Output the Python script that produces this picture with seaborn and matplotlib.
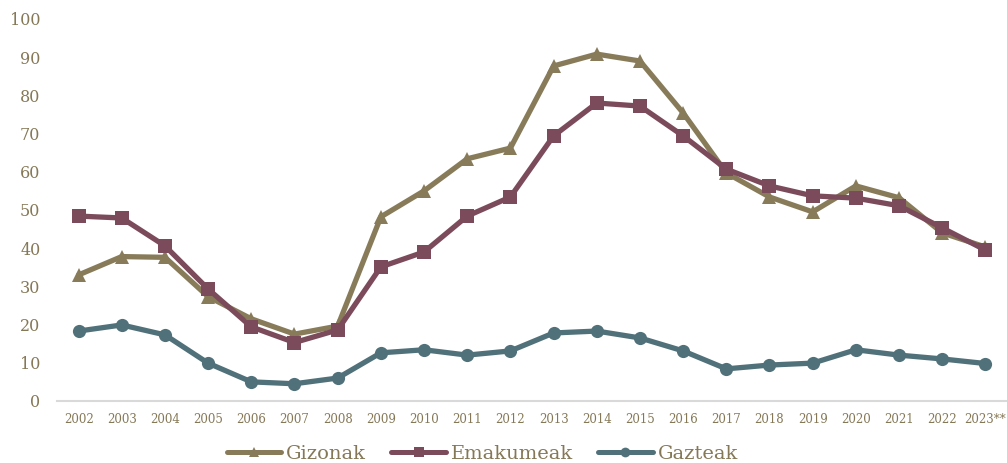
"""Gizonak / Emakumeak / Gazteak time series, 2002-2023."""

import matplotlib.pyplot as plt
import pandas as pd
import seaborn as sns

YEARS = [str(y) for y in range(2002, 2023)] + ["2023**"]
GIZONAK = [33.0, 37.8, 37.6, 27.3, 21.5, 17.5, 19.6, 48.2, 55.0, 63.4, 66.2, 87.7,
           90.8, 89.0, 75.4, 59.7, 53.4, 49.5, 56.3, 53.2, 44.0, 40.3]
EMAKUMEAK = [48.4, 47.9, 40.6, 29.3, 19.4, 15.3, 18.6, 35.1, 39.0, 48.4, 53.4, 69.4,
             78.0, 77.2, 69.4, 60.7, 56.3, 53.7, 53.1, 51.1, 45.3, 39.5]
GAZTEAK = [18.3, 19.9, 17.3, 9.9, 5.0, 4.5, 6.0, 12.6, 13.4, 12.0, 13.1, 17.8,
           18.3, 16.5, 13.1, 8.4, 9.4, 9.9, 13.4, 12.0, 11.0, 9.8]

SERIES = ["Gizonak", "Emakumeak", "Gazteak"]
COLORS = ["#887b59", "#7c4b5b", "#50707a"]
MARKERS = ["^", "s", "o"]
TEXT = "#857857"


def main() -> None:
    sns.set_theme(style="white")
    plt.rcParams["font.family"] = ["DejaVu Serif"]

    rows = []
    for name, vals in zip(SERIES, [GIZONAK, EMAKUMEAK, GAZTEAK]):
        for i, v in enumerate(vals):
            rows.append({"pos": i, "value": v, "serie": name})
    df = pd.DataFrame(rows)

    fig = plt.figure(figsize=(10.07, 4.63), dpi=100)
    ax = fig.add_axes([0.0566, 0.134, 0.9434, 0.825])
    sns.lineplot(data=df, x="pos", y="value", hue="serie", style="serie",
                 palette=COLORS, markers=MARKERS, dashes=False,
                 linewidth=3.8, markersize=9.5, markeredgewidth=0,
                 ax=ax, legend=False, zorder=3)

    ax.set_xlim(-0.5, len(YEARS) - 0.5)
    ax.set_ylim(0, 100)
    ax.set_xticks(range(len(YEARS)))
    ax.set_xticklabels(YEARS, fontsize=8.5, color=TEXT)
    ax.set_yticks(range(0, 101, 10))
    ax.set_yticklabels([str(v) for v in range(0, 101, 10)], fontsize=11.5, color=TEXT)
    ax.tick_params(axis="x", length=0, pad=9)
    ax.tick_params(axis="y", length=0, pad=12)
    ax.set_xlabel("")
    ax.set_ylabel("")
    for side in ["top", "right", "left"]:
        ax.spines[side].set_visible(False)
    ax.spines["bottom"].set_color("#d9d9d9")
    ax.spines["bottom"].set_linewidth(1.5)
    ax.grid(False)

    handles = [
        plt.Line2D([], [], color=c, marker=m, linewidth=3.6, markersize=7,
                   markeredgewidth=0, solid_capstyle="round")
        for c, m in zip(COLORS, MARKERS)
    ]
    fig.legend(handles, SERIES, loc="center", bbox_to_anchor=(0.479, 0.02),
               ncol=3, frameon=False, handlelength=2.8, handletextpad=0.25,
               columnspacing=1.3, labelcolor=TEXT, prop={"size": 14})

    fig.savefig("out.png", dpi=100)
    plt.close(fig)


if __name__ == "__main__":
    main()
